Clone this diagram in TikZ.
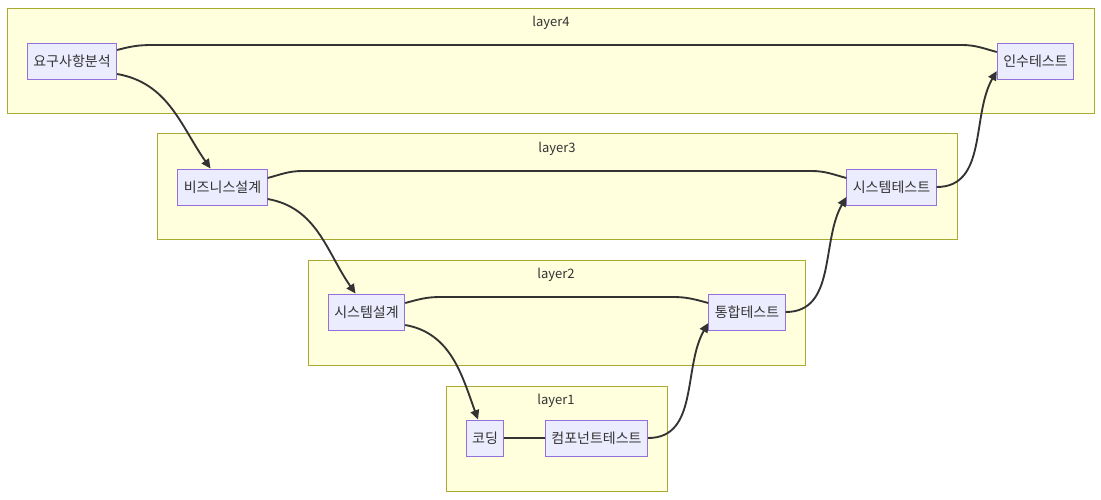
\documentclass[tikz,border=0pt]{standalone}
\usepackage{fontspec}
\setmainfont{Noto Sans CJK KR}
\usetikzlibrary{arrows.meta,calc}
\definecolor{clusterfill}{HTML}{FFFFDE}
\definecolor{clusterline}{HTML}{AAAA33}
\definecolor{stepfill}{HTML}{ECECFF}
\definecolor{stepline}{HTML}{9370DB}
\definecolor{ink}{HTML}{333333}
\begin{document}
\begin{tikzpicture}[
        x=0.75pt, y=0.75pt,
        cluster/.style={draw=clusterline, fill=clusterfill, line width=0.75pt}, % Layer box
        ctitle/.style={text=ink, font=\fontsize{9.75}{11}\selectfont, inner sep=0pt}, % Layer title
        stepbox/.style={draw=stepline, fill=stepfill, line width=0.75pt, text=ink, font=\fontsize{10.5}{12}\selectfont, minimum height=27pt, inner xsep=4.5pt}, % Box styling
        link/.style={draw=ink, line width=1.4pt}, % Plain line
        arrow/.style={link, -{Triangle[length=7pt,width=6.5pt]}} % Arrow styling
        ]
        \useasboundingbox (0,0) rectangle (1101,-500);

        % Define layers
        \draw[cluster] (7,-8) rectangle (1094,-113);
        \node (t4) [ctitle] at (551,-23) {layer4};
        \draw[cluster] (157,-133) rectangle (957,-239);
        \node (t3) [ctitle] at (557,-149) {layer3};
        \draw[cluster] (308,-260) rectangle (805,-365);
        \node (t2) [ctitle] at (556,-275) {layer2};
        \draw[cluster] (446,-386) rectangle (667,-491);
        \node (t1) [ctitle] at (556,-401) {layer1};

        % Define nodes
        \node (req) [stepbox] at (72,-61) {요구사항분석};
        \node (accept) [stepbox] at (1035.5,-61) {인수테스트};
        \node (bizdesign) [stepbox] at (222.5,-187) {비즈니스설계};
        \node (systest) [stepbox] at (891.5,-187) {시스템테스트};
        \node (sysdesign) [stepbox] at (366.5,-312) {시스템설계};
        \node (integ) [stepbox] at (747,-312) {통합테스트};
        \node (coding) [stepbox] at (485,-438) {코딩};
        \node (comptest) [stepbox] at (596.5,-438) {컴포넌트테스트};

        % Draw lines between matching levels
        \draw[link] ($(req.east)+(0,11)$) to[out=15,in=180] ($(req.east)+(35,16)$)
            -- ($(accept.west)+(-35,16)$) to[out=0,in=165] ($(accept.west)+(0,9)$);
        \draw[link] ($(bizdesign.east)+(0,9)$) to[out=15,in=180] ($(bizdesign.east)+(35,16)$)
            -- ($(systest.west)+(-35,16)$) to[out=0,in=165] ($(systest.west)+(0,9)$);
        \draw[link] ($(sysdesign.east)+(0,9)$) to[out=15,in=180] ($(sysdesign.east)+(35,15)$)
            -- ($(integ.west)+(-35,15)$) to[out=0,in=165] ($(integ.west)+(0,9)$);
        \draw[link] (coding.east) -- (comptest.west);

        % Draw arrows down the left side
        \draw[arrow] ($(req.east)+(0,-13)$) to[out=-10,in=125] ($(bizdesign.north)+(-12,0)$);
        \draw[arrow] ($(bizdesign.east)+(0,-12)$) to[out=-10,in=125] ($(sysdesign.north)+(-11,0)$);
        \draw[arrow] ($(sysdesign.east)+(0,-13)$) to[out=-10,in=110] ($(coding.north)+(-7,0)$);

        % Draw arrows up the right side
        \draw[arrow] (comptest.east) to[out=0,in=240] ($(integ.west)+(0,-11)$);
        \draw[arrow] (integ.east) to[out=0,in=240] ($(systest.west)+(0,-10)$);
        \draw[arrow] (systest.east) to[out=0,in=240] ($(accept.west)+(0,-10)$);

    \end{tikzpicture}
\end{document}
